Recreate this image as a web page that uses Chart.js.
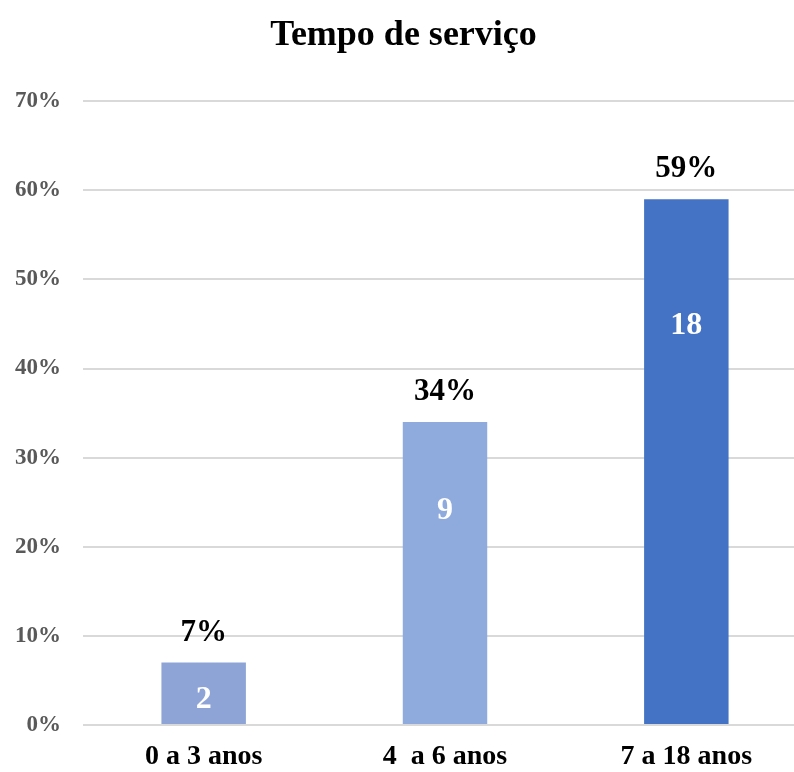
<!DOCTYPE html>
<html>
<head>
<meta charset="utf-8">
<script src="https://cdn.jsdelivr.net/npm/chart.js@4.4.1/dist/chart.umd.min.js"></script>
<style>
  html, body { margin: 0; padding: 0; background: #fff; overflow: hidden; }
  #wrap { width: 807px; height: 772px; position: relative; }
</style>
</head>
<body>
<div id="wrap"><canvas id="tempoChart"></canvas></div>
<script>
// chart data
var categories = ['0 a 3 anos', '4  a 6 anos', '7 a 18 anos'];
var percentValues = [7, 34, 59];
var countValues = [2, 9, 18];
var barColors = ['#8EA4D6', '#8FAADC', '#4472C4'];
var yTicks = [0, 10, 20, 30, 40, 50, 60, 70];

var SERIF = '"Liberation Serif", "Times New Roman", serif';

// where the count label sits inside each bar (in % units, as in the picture)
var countLabelAt = [2.8, 24.0, 44.8];

var barLabels = {
    id: 'barLabels',
    afterDatasetsDraw: function(chart) {
        var ctx = chart.ctx;
        var meta = chart.getDatasetMeta(0);
        var yScale = chart.scales.y;
        ctx.save();
        ctx.textAlign = 'center';
        ctx.textBaseline = 'middle';
        meta.data.forEach(function(bar, i) {
            // percentage above the bar
            ctx.fillStyle = '#000';
            ctx.font = 'bold 31px ' + SERIF;
            ctx.fillText(percentValues[i] + '%', bar.x, bar.y - 30);
            // count inside the bar
            ctx.fillStyle = '#fff';
            ctx.font = 'bold 32px ' + SERIF;
            ctx.fillText(String(countValues[i]), bar.x, yScale.getPixelForValue(countLabelAt[i]));
        });
        ctx.restore();
    }
};

var ctx = document.getElementById('tempoChart').getContext('2d');
var chart = new Chart(ctx, {
    type: 'bar',
    data: {
        labels: categories,
        datasets: [{
            data: percentValues,
            backgroundColor: barColors,
            borderWidth: 0,
            barPercentage: 0.35,
            categoryPercentage: 1
        }]
    },
    options: {
        responsive: true,
        maintainAspectRatio: false,
        animation: false,
        layout: { padding: 0 },
        plugins: {
            legend: { display: false },
            tooltip: { enabled: false },
            title: {
                display: true,
                text: 'Tempo de serviço',
                color: '#000',
                font: { family: SERIF, size: 36, weight: 'bold' },
                padding: { top: 14, bottom: 44 }
            }
        },
        scales: {
            x: {
                afterFit: function(scale) { scale.height = 47; },
                grid: { display: false },
                border: { display: false },
                ticks: {
                    color: '#000',
                    font: { family: SERIF, size: 28, weight: 'bold' },
                    padding: 7
                }
            },
            y: {
                min: 0,
                max: 70,
                afterBuildTicks: function(scale) {
                    scale.ticks = yTicks.map(function(v) { return { value: v }; });
                },
                afterFit: function(scale) { scale.width = 83; },
                grid: { color: '#D9D9D9', lineWidth: 2, drawTicks: false },
                border: { display: false },
                ticks: {
                    color: '#595959',
                    font: { family: SERIF, size: 23, weight: 'bold' },
                    padding: 22,
                    callback: function(v) { return v + '%'; }
                }
            }
        }
    },
    plugins: [barLabels]
});
</script>
</body>
</html>
